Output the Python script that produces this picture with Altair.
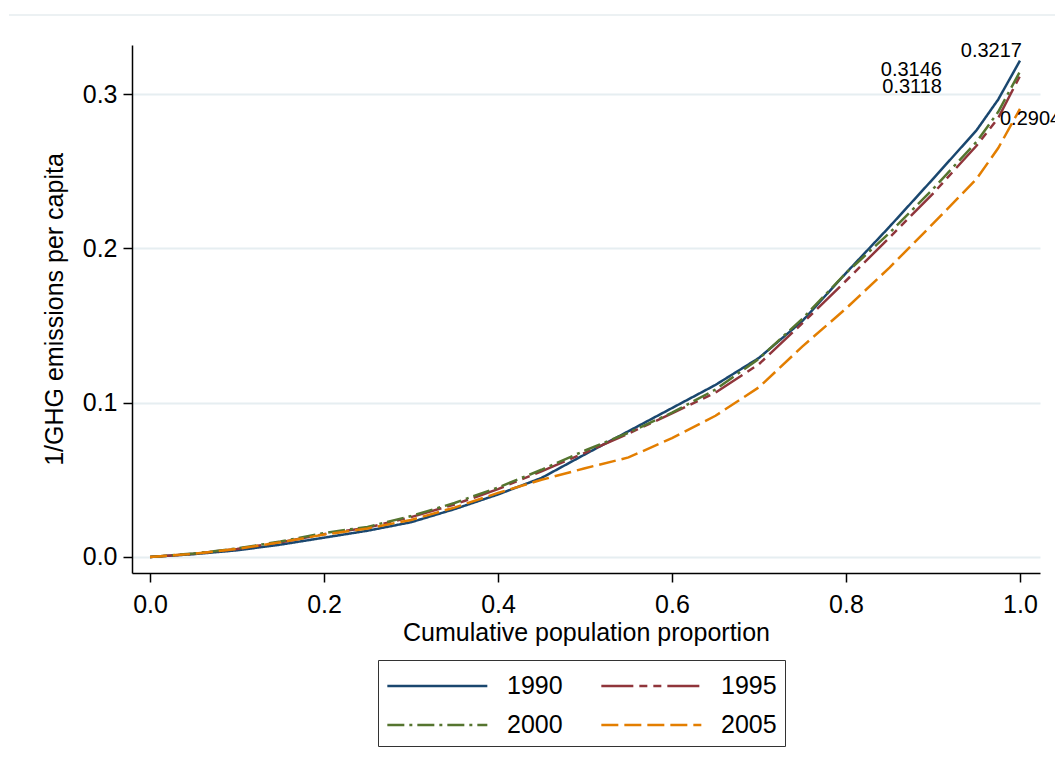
import altair as alt
import pandas as pd

# cumulative population proportion (shared grid)
x_vals = [0.0, 0.05, 0.10, 0.15, 0.20, 0.25, 0.30, 0.35, 0.40, 0.45, 0.50,
          0.55, 0.60, 0.65, 0.70, 0.75, 0.80, 0.85, 0.90, 0.95, 0.975, 1.0]

y_1990 = [0.0, 0.0018, 0.0043, 0.0080, 0.0125, 0.0170, 0.0225, 0.0310, 0.0405, 0.0512, 0.0665,
          0.0815, 0.0965, 0.1115, 0.1290, 0.1530, 0.1840, 0.2140, 0.2450, 0.2765, 0.2965, 0.3217]
y_1995 = [0.0, 0.0020, 0.0052, 0.0095, 0.0148, 0.0190, 0.0258, 0.0340, 0.0440, 0.0555, 0.0675,
          0.0800, 0.0930, 0.1065, 0.1250, 0.1515, 0.1790, 0.2070, 0.2355, 0.2665, 0.2845, 0.3118]
y_2000 = [0.0, 0.0022, 0.0055, 0.0100, 0.0155, 0.0195, 0.0265, 0.0350, 0.0450, 0.0565, 0.0690,
          0.0805, 0.0935, 0.1085, 0.1285, 0.1545, 0.1840, 0.2100, 0.2385, 0.2690, 0.2885, 0.3146]
y_2005 = [0.0, 0.0020, 0.0052, 0.0095, 0.0145, 0.0185, 0.0240, 0.0320, 0.0415, 0.0500, 0.0575,
          0.0645, 0.0770, 0.0915, 0.1100, 0.1365, 0.1610, 0.1875, 0.2160, 0.2450, 0.2650, 0.2904]

years = ["1990", "1995", "2000", "2005"]
series = [y_1990, y_1995, y_2000, y_2005]
colors = ["#1a476f", "#90353b", "#55752f", "#e37e00"]
dashes = [[1, 0], [32, 6, 8, 6, 8, 6], [17, 5, 3, 5], [17, 6]]

end_labels = ["0.3217", "0.3118", "0.3146", "0.2904"]
end_values = [0.3217, 0.3118, 0.3146, 0.2904]

rows = []
for yr, ys in zip(years, series):
    for i, (xv, yv) in enumerate(zip(x_vals, ys)):
        rows.append({"year": yr, "x": xv, "y": yv, "order": i})
df = pd.DataFrame(rows)

lab_df = pd.DataFrame({"year": years, "x": [1.0] * 4, "y": end_values, "label": end_labels})

FONT = "Liberation Sans"
xscale = alt.Scale(domain=[-0.0207, 1.023], nice=False, zero=False)
yscale = alt.Scale(domain=[-0.0104, 0.3318], nice=False, zero=False)

lines = alt.Chart(df).mark_line(strokeWidth=2.5).encode(
    x=alt.X("x:Q", scale=xscale,
            axis=alt.Axis(title="Cumulative population proportion", values=[0, 0.2, 0.4, 0.6, 0.8, 1.0],
                          format=".1f", grid=False, tickSize=9, labelPadding=10,
                          titlePadding=3)),
    y=alt.Y("y:Q", scale=yscale,
            axis=alt.Axis(title="1/GHG emissions per capita", values=[0, 0.1, 0.2, 0.3],
                          format=".1f", grid=True, tickSize=9, labelPadding=6,
                          titlePadding=15)),
    color=alt.Color("year:N", scale=alt.Scale(domain=years, range=colors),
                    legend=alt.Legend(orient="none", legendX=246, legendY=615, columns=2,
                                      direction="horizontal", title=None,
                                      symbolType="M-1,0H5", symbolSize=1111, symbolStrokeWidth=2.5,
                                      symbolFillColor="transparent",
                                      labelFontSize=25, labelFont=FONT, labelColor="black",
                                      labelOffset=85, columnPadding=33, rowPadding=8,
                                      padding=8, strokeColor="#333333")),
    strokeDash=alt.StrokeDash("year:N", scale=alt.Scale(domain=years, range=dashes), legend=None),
    order="order:Q",
)

label_pos = [("0.3217", 2, -4, "right"), ("0.3146", -78, 4, "right"),
             ("0.3118", -78, 17, "right"), ("0.2904", -20, 16, "left")]
text_layers = []
for lab, dx, dy, al in label_pos:
    text_layers.append(
        alt.Chart(lab_df).transform_filter(alt.datum.label == lab).mark_text(
            align=al, baseline="alphabetic", dx=dx, dy=dy, fontSize=20, font=FONT, color="black"
        ).encode(x=alt.X("x:Q", scale=xscale), y=alt.Y("y:Q", scale=yscale), text="label:N")
    )

top_line = alt.Chart(alt.Data(values=[{"a": 1}])).mark_rule(color="#e6edef", strokeWidth=1.5).encode(
    x=alt.value(-123), x2=alt.value(923), y=alt.value(-30)
)

chart = alt.layer(top_line, lines, *text_layers).properties(
    width=908, height=528,
    padding={"left": 132, "top": 45, "right": 15, "bottom": 201},
    autosize=alt.AutoSizeParams(type="none"),
).configure_view(strokeWidth=0).configure_axis(
    labelFont=FONT, titleFont=FONT, labelFontSize=25, titleFontSize=25,
    labelColor="black", titleColor="black", titleFontWeight="normal",
    domainColor="black", domainWidth=1.5, tickColor="black", tickWidth=1.5,
    gridColor="#e6eef1", gridWidth=2,
)

chart.save("out.html", embed_options={"renderer": "svg", "actions": False})
